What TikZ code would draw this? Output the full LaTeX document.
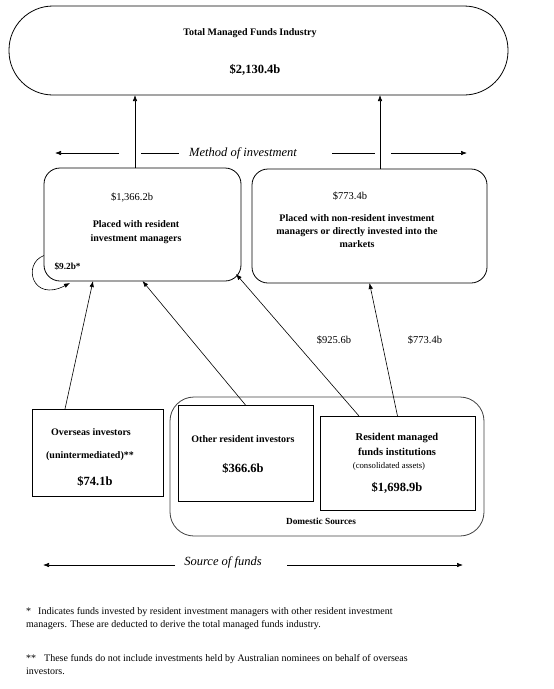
\documentclass[tikz,border=0pt]{standalone}
\usepackage{fontspec}
\setmainfont{Liberation Serif}
\usetikzlibrary{arrows.meta}

\begin{document}
\begin{tikzpicture}[x=1pt,y=-1pt,
  box/.style={draw, line width=0.8pt, inner sep=0pt, outer sep=0pt},
  arr/.style={-{Latex[length=6pt,width=4.5pt]}, line width=0.6pt},
  rule/.style={line width=0.6pt},
  txt/.style={font=\fontsize{10}{13}\selectfont\bfseries, align=center},
  amt/.style={font=\fontsize{12.5}{14}\selectfont\bfseries},
  val/.style={font=\fontsize{10.5}{12}\selectfont},
  head/.style={font=\fontsize{12.5}{14}\selectfont\itshape},
  note/.style={font=\fontsize{10}{13}\selectfont, anchor=north west, align=left, inner sep=0pt}]
\useasboundingbox (0,0) rectangle (554,689);

% industry total
\node[box, minimum width=499pt, minimum height=89pt, rounded corners=44pt] (total) at (258.5,50.5) {};
\node[txt] (totaltitle) at (250,33) {Total Managed Funds Industry};
\node[amt] (totalamt) at (255,70) {\$2,130.4b};

% method of investment
\node[head] (method) at (243,153) {Method of investment};
\draw[arr] (119,153) -- (55,153);
\draw[rule] (141,153) -- (179,153);
\draw[rule] (332,153) -- (375,153);
\draw[arr] (391,153) -- (467,153);

\node[box, minimum width=197pt, minimum height=113pt, rounded corners=16pt] (resmgr) at (142.5,224.5) {};
\node[val] (resamt) at (132,197) {\$1,366.2b};
\node[txt] (restext) at (136,232) {Placed with resident\\[1pt]investment managers};
\node[font=\fontsize{9.3}{11}\selectfont\bfseries, anchor=west] (selfamt) at (51,266) {\$9.2b*};

\node[box, minimum width=235pt, minimum height=114pt, rounded corners=16pt] (nonres) at (369.5,226) {};
\node[val] (nonresamt) at (350,196) {\$773.4b};
\node[txt] (nonrestext) at (357,231) {Placed with non-resident investment\\managers or directly invested into the\\markets};

\draw[arr] ([xshift=-7.5pt]resmgr.north) coordinate (upl) -- (upl |- total.south);
\draw[arr] ([xshift=10.5pt]nonres.north) coordinate (upr) -- (upr |- total.south);
\draw[arr] ([yshift=-31pt]resmgr.west) .. controls +(-22,8) and +(-38,20) .. ([xshift=26pt,yshift=-2pt]resmgr.south west);

% source of funds
\node[box, draw=black!75, minimum width=314pt, minimum height=139pt, rounded corners=24pt] (domestic) at (327,466.5) {};
\node[font=\fontsize{9.3}{10}\selectfont\bfseries] (domtext) at (321,521) {Domestic Sources};

\node[box, minimum width=131pt, minimum height=87pt] (overseas) at (97.5,452.5) {};
\node[txt] (ovtext) at (91,432) {Overseas investors};
\node[txt] (ovtext2) at (90,456) {(unintermediated)**};
\node[amt] (ovamt) at (95,481) {\$74.1b};

\node[box, minimum width=135pt, minimum height=96pt] (otherres) at (245.5,453) {};
\node[txt] (ortext) at (243,439) {Other resident investors};
\node[amt] (oramt) at (243,468) {\$366.6b};

\node[box, minimum width=155pt, minimum height=94pt] (rmfi) at (397.5,463) {};
\node[txt, font=\fontsize{10.5}{15}\selectfont\bfseries] (rmtext) at (397,444.5) {Resident managed\\funds institutions};
\node[font=\fontsize{8.7}{10}\selectfont] (rmcons) at (389,466) {(consolidated assets)};
\node[amt] (rmamt) at (397,488) {\$1,698.9b};

\draw[arr] ([xshift=-32.5pt]overseas.north) -- ([xshift=-49.5pt]resmgr.south);
\draw[arr] (otherres.north) -- (resmgr.south);
\draw[arr] ([xshift=-38.5pt]rmfi.north) -- ([xshift=-5pt,yshift=7pt]resmgr.south east);
\draw[arr] (rmfi.north) -- (nonres.south);
\node[val] (flowres) at (334,340) {\$925.6b};
\node[val] (flownon) at (425,340) {\$773.4b};

\node[head] (source) at (223,562) {Source of funds};
\draw[arr] (175,565) -- (43,565);
\draw[arr] (287,565) -- (463,565);

% notes
\node[note] (note1) at (26,607) {*\hspace{7pt}Indicates funds invested by resident investment managers with other resident investment\\managers. These are deducted to derive the total managed funds industry.};
\node[note] (note2) at (26,654) {**\hspace{8pt}These funds do not include investments held by Australian nominees on behalf of overseas\\investors.};
\end{tikzpicture}
\end{document}
